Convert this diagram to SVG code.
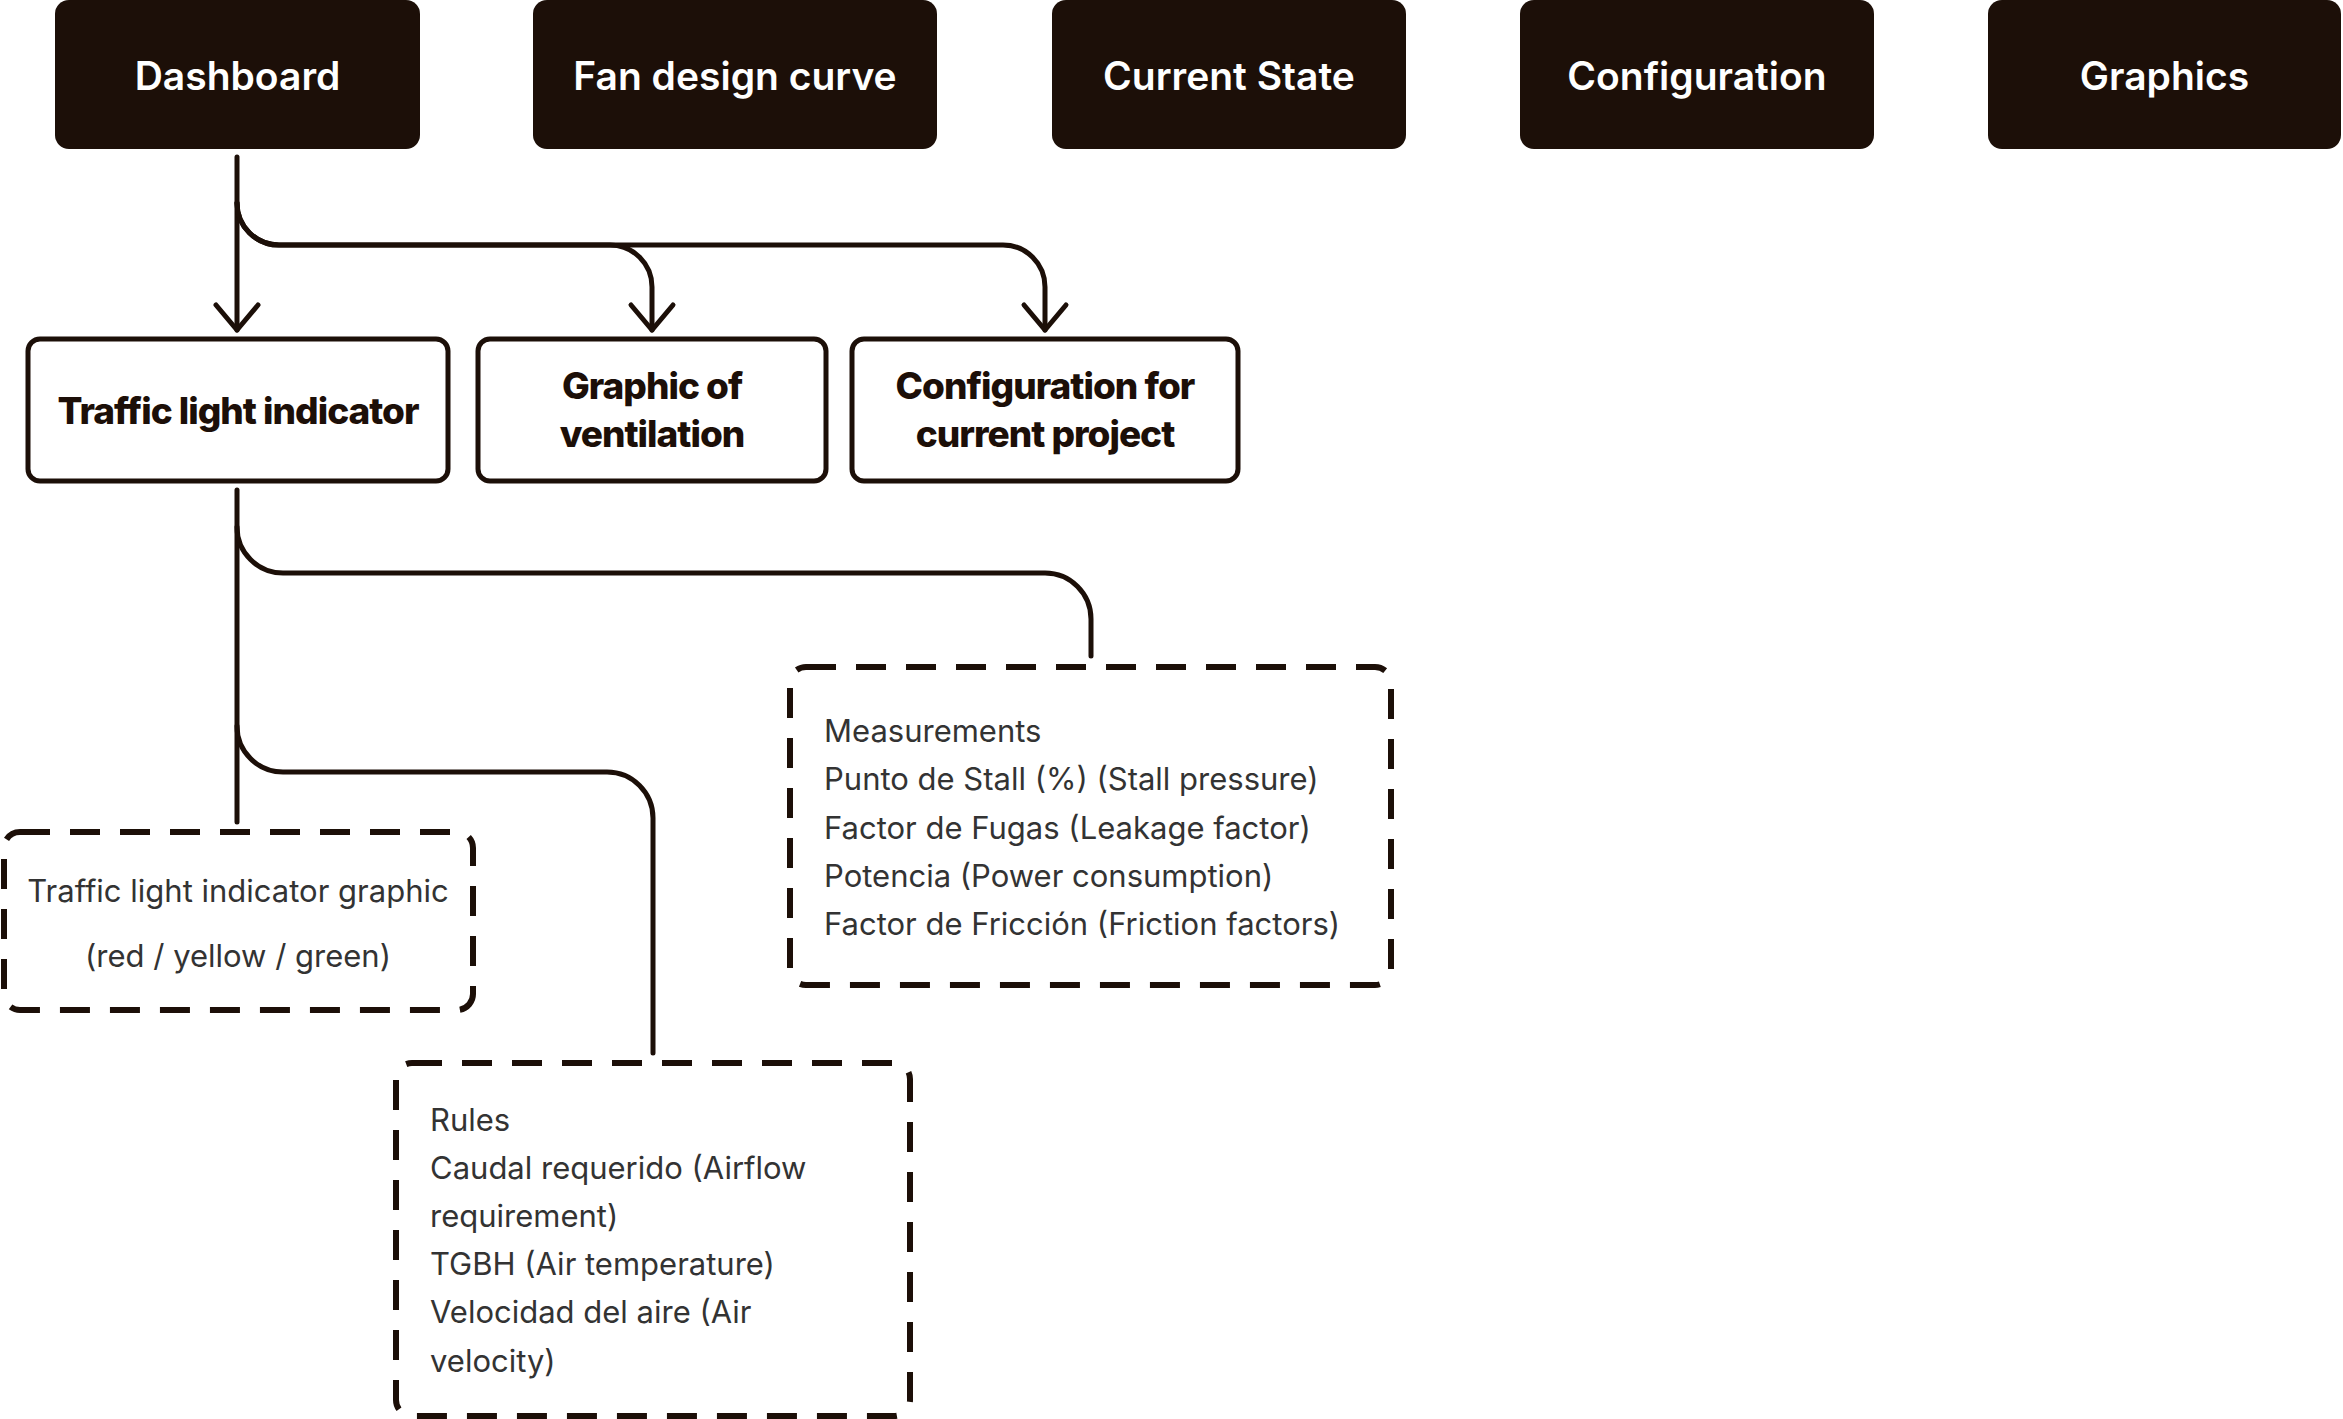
<svg xmlns="http://www.w3.org/2000/svg" width="2343" height="1419" viewBox="0 0 2343 1419">
<defs>
<style>
.top rect{fill:#1c0f08;}
.top text{fill:#ffffff;font-family:Inter,"Liberation Sans",sans-serif;font-weight:600;font-size:39px;text-anchor:middle;}
.solid rect{fill:#ffffff;stroke:#1c0f08;stroke-width:5;}
.solid text{fill:#1c0f08;font-family:Inter,"Liberation Sans",sans-serif;font-weight:800;font-size:37px;letter-spacing:-1px;text-anchor:middle;}
.dash rect{fill:none;stroke:#1c0f08;stroke-width:6;stroke-dasharray:30 20;}
.dash text{fill:#333333;font-family:Inter,"Liberation Sans",sans-serif;font-weight:400;font-size:31px;}
.conn path{fill:none;stroke:#1c0f08;stroke-width:5;stroke-linecap:round;}
</style>
<marker id="arr" markerUnits="userSpaceOnUse" viewBox="-30 -25 34 50" refX="0" refY="0" markerWidth="34" markerHeight="50" orient="auto" overflow="visible">
<path d="M-25,-21 L0,0 L-25,21" fill="none" stroke="#1c0f08" stroke-width="5" stroke-linecap="round" stroke-linejoin="round"/>
</marker>
</defs>
<rect width="2343" height="1419" fill="#ffffff"/>

<g id="dashboard" class="top"><rect x="55" y="0" width="365" height="149" rx="14"/><text x="237.5" y="90">Dashboard</text></g>
<g id="fan-design-curve" class="top"><rect x="533" y="0" width="404" height="149" rx="14"/><text x="735" y="90">Fan design curve</text></g>
<g id="current-state" class="top"><rect x="1052" y="0" width="354" height="149" rx="14"/><text x="1229" y="90">Current State</text></g>
<g id="configuration" class="top"><rect x="1520" y="0" width="354" height="149" rx="14"/><text x="1697" y="90">Configuration</text></g>
<g id="graphics" class="top"><rect x="1988" y="0" width="353" height="149" rx="14"/><text x="2164.5" y="90">Graphics</text></g>

<g id="traffic-light-indicator" class="solid"><rect x="28" y="339" width="420" height="142" rx="12"/><text x="238" y="424">Traffic light indicator</text></g>
<g id="graphic-of-ventilation" class="solid"><rect x="478" y="339" width="348" height="142" rx="12"/><text x="652" y="399">Graphic of</text><text x="652" y="447">ventilation</text></g>
<g id="configuration-for-current-project" class="solid"><rect x="852" y="339" width="386" height="142" rx="12"/><text x="1045" y="399">Configuration for</text><text x="1045" y="447">current project</text></g>

<g id="traffic-light-indicator-graphic" class="dash"><rect x="4" y="832" width="469" height="178" rx="16"/><text x="238" y="902" text-anchor="middle">Traffic light indicator graphic</text><text x="238" y="967" text-anchor="middle">(red / yellow / green)</text></g>
<g id="measurements" class="dash"><rect x="790" y="667" width="601" height="318" rx="16"/>
<text x="824" y="742">Measurements</text>
<text x="824" y="790">Punto de Stall (%) (Stall pressure)</text>
<text x="824" y="839">Factor de Fugas (Leakage factor)</text>
<text x="824" y="887">Potencia (Power consumption)</text>
<text x="824" y="935">Factor de Fricción (Friction factors)</text></g>
<g id="rules" class="dash"><rect x="396" y="1063" width="514" height="353" rx="16"/>
<text x="430" y="1131">Rules</text>
<text x="430" y="1179">Caudal requerido (Airflow</text>
<text x="430" y="1227">requirement)</text>
<text x="430" y="1275">TGBH (Air temperature)</text>
<text x="430" y="1323">Velocidad del aire (Air</text>
<text x="430" y="1372">velocity)</text></g>

<g id="connectors" class="conn">
<path d="M237,157 V330" marker-end="url(#arr)"/>
<path d="M237,203 A42,42 0 0 0 279,245 H610 A42,42 0 0 1 652,287 V330" marker-end="url(#arr)"/>
<path d="M237,203 A42,42 0 0 0 279,245 H1003 A42,42 0 0 1 1045,287 V330" marker-end="url(#arr)"/>
<path d="M237,490 V822"/>
<path d="M237,527 A46,46 0 0 0 283,573 H1045 A46,46 0 0 1 1091,619 V656"/>
<path d="M237,726 A46,46 0 0 0 283,772 H607 A46,46 0 0 1 653,818 V1053"/>
</g>
</svg>
